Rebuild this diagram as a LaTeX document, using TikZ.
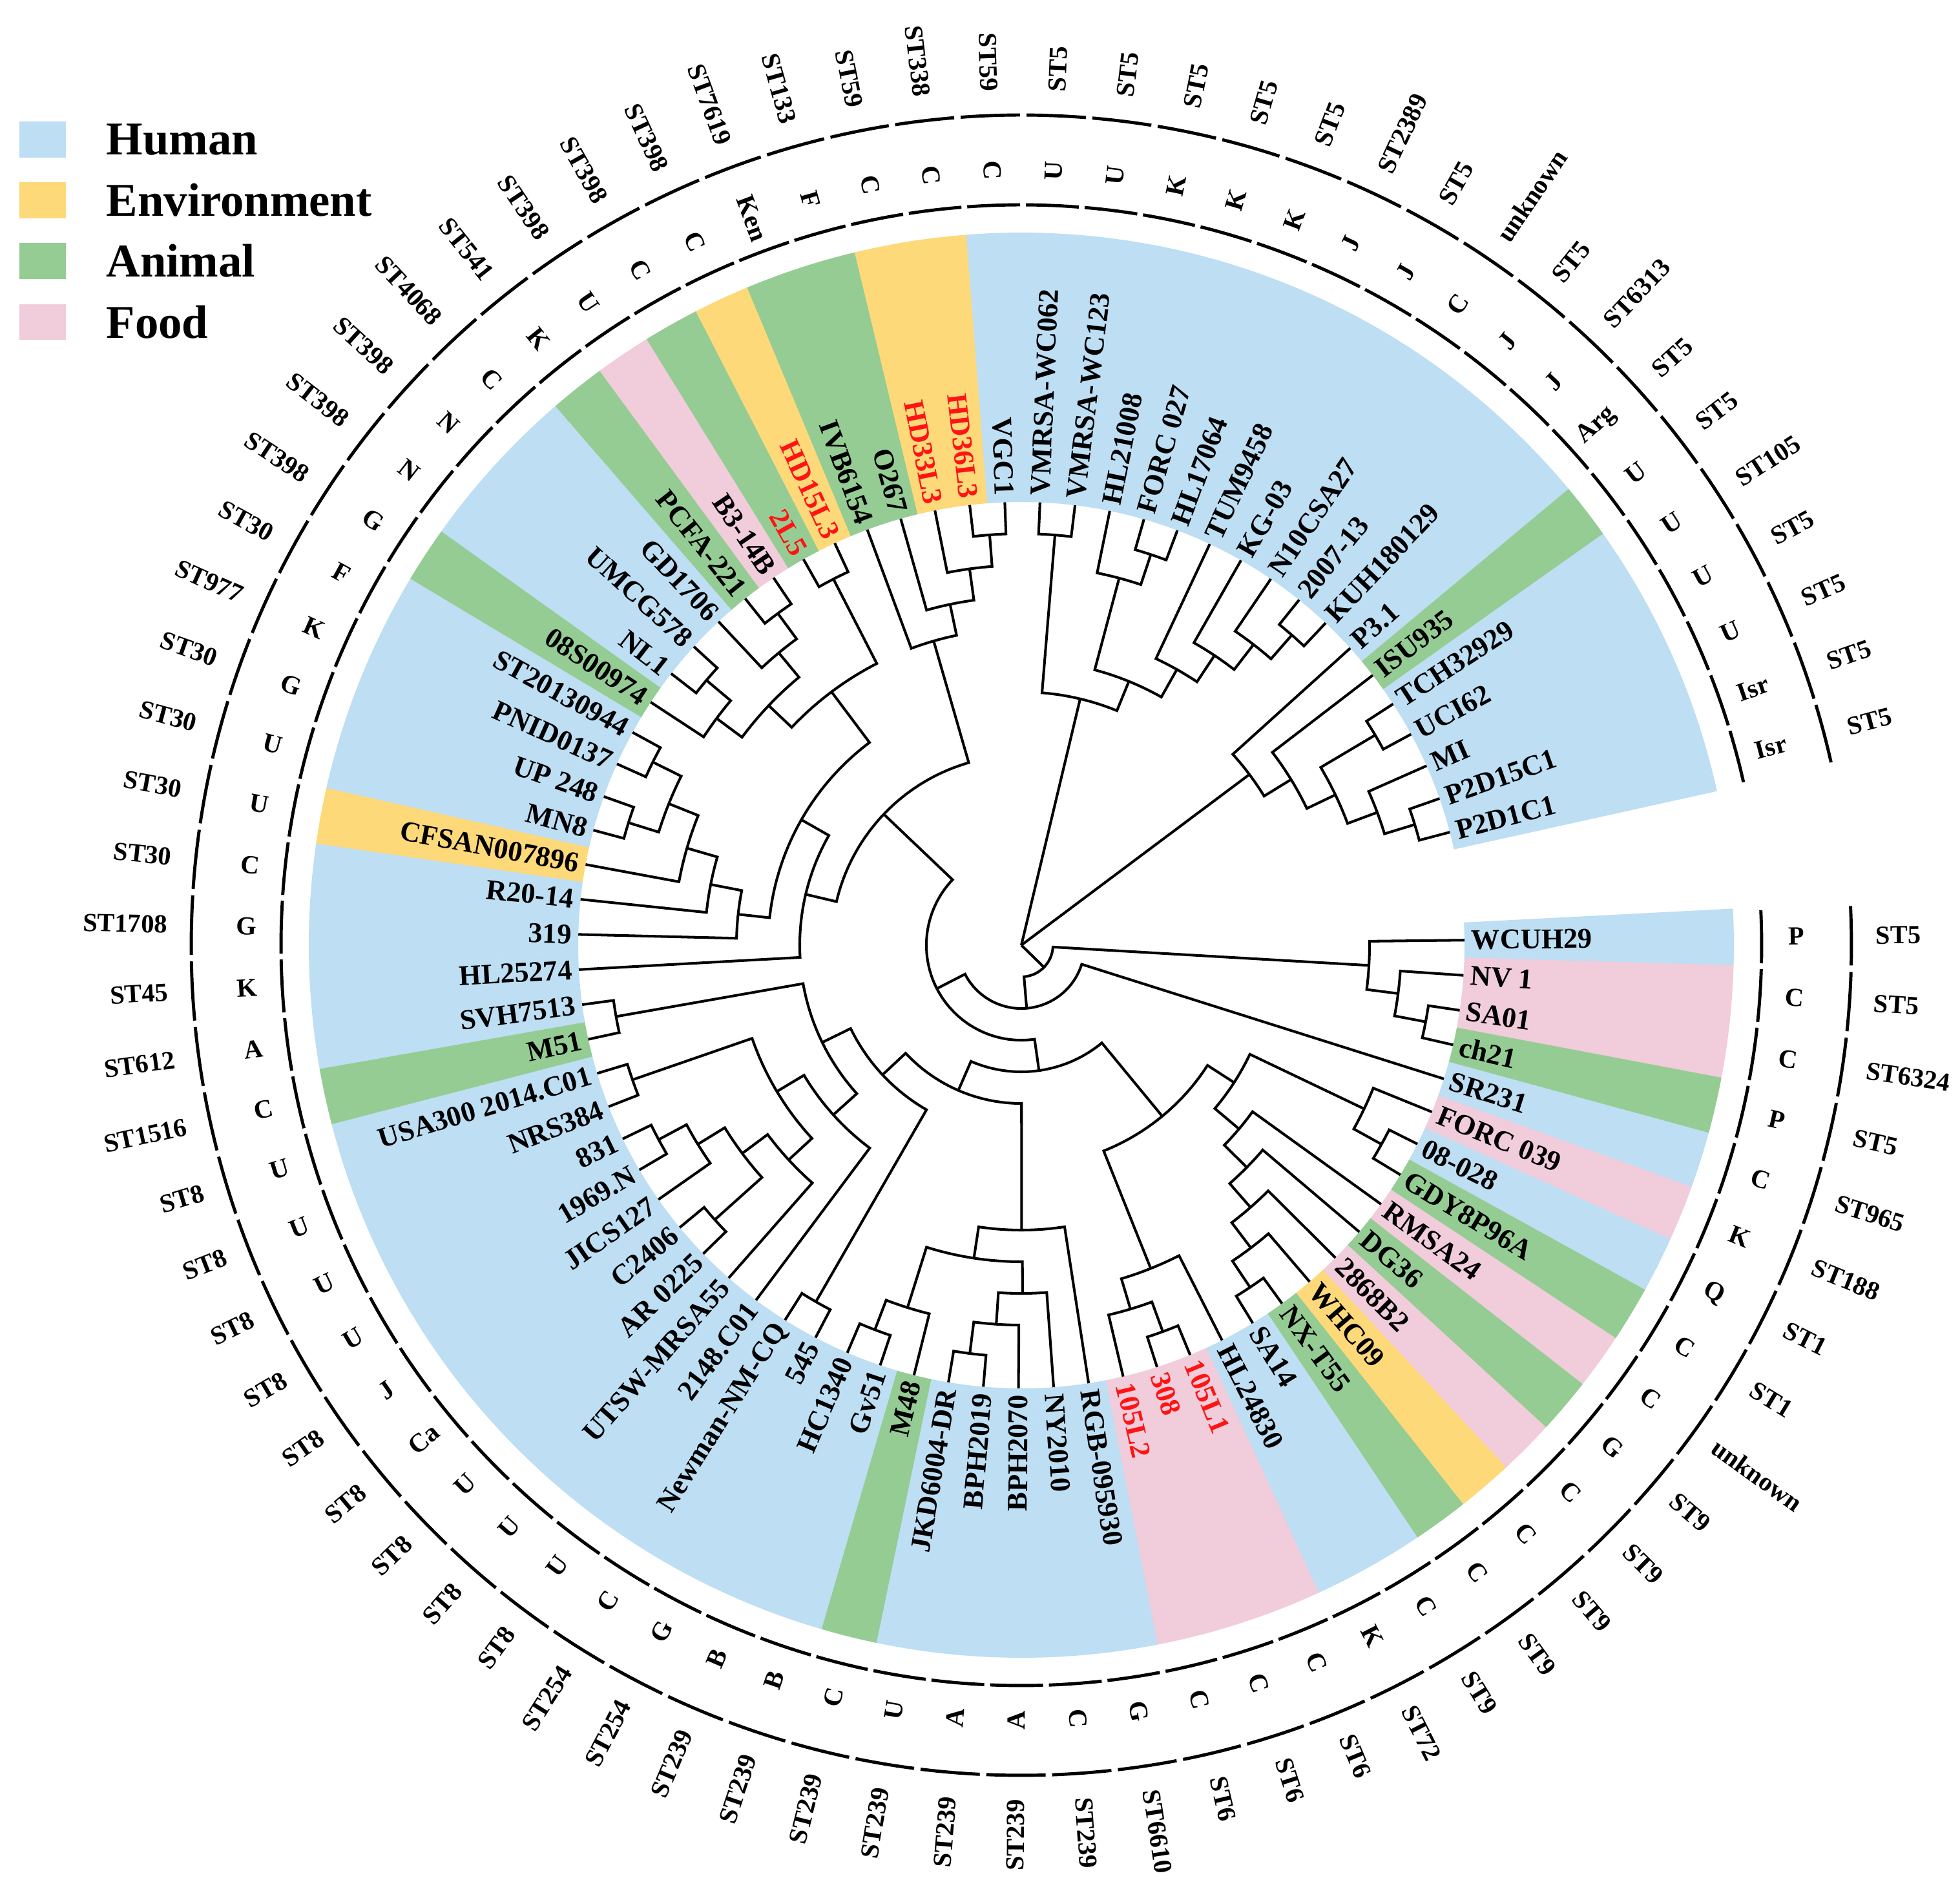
\documentclass[tikz,border=0pt]{standalone}
\usepackage{fontspec}
\setmainfont{Liberation Serif}

\definecolor{hum}{RGB}{189,222,243}
\definecolor{env}{RGB}{254,217,122}
\definecolor{ani}{RGB}{149,204,148}
\definecolor{foo}{RGB}{241,204,219}
\definecolor{redlbl}{RGB}{255,20,20}

\tikzset{
  branch/.style={line width=1.15pt, line join=miter},
  ring/.style={line width=1.4pt},
  lbl/.style={font=\fontsize{12.6}{14}\selectfont\bfseries, inner sep=0pt},
  ctylbl/.style={font=\fontsize{11.5}{13}\selectfont\bfseries, inner sep=0pt},
  stlbl/.style={font=\fontsize{11.5}{13}\selectfont\bfseries, inner sep=0pt},
  legtext/.style={font=\fontsize{20.7}{24}\selectfont\bfseries, inner sep=0pt, anchor=west},
}

\newcommand{\rtip}{6.86}
\newcommand{\stp}{0.49}

% label / source / country / ST / text colour
\newcommand{\leafdata}{
  WCUH29/hum/P/ST5/black, NV 1/foo/C/ST5/black, SA01/foo/C/ST6324/black,
  ch21/ani/P/ST5/black, SR231/hum/C/ST965/black, FORC 039/foo/K/ST188/black,
  08-028/hum/Q/ST1/black, GDY8P96A/ani/C/ST1/black, RMSA24/foo/C/unknown/black,
  DG36/ani/G/ST9/black, 2868B2/foo/C/ST9/black, WHC09/env/C/ST9/black,
  NX-T55/ani/C/ST9/black, SA14/hum/C/ST9/black, HL24830/hum/K/ST72/black,
  105L1/foo/C/ST6/redlbl, 308/foo/C/ST6/redlbl, 105L2/foo/C/ST6/redlbl,
  RGB-095930/hum/G/ST6610/black, NY2010/hum/C/ST239/black, BPH2070/hum/A/ST239/black,
  BPH2019/hum/A/ST239/black, JKD6004-DR/hum/U/ST239/black, M48/ani/C/ST239/black,
  Gv51/hum/B/ST239/black, HC1340/hum/B/ST239/black, 545/hum/G/ST254/black,
  Newman-NM-CQ/hum/C/ST254/black, 2148.C01/hum/U/ST8/black, UTSW-MRSA55/hum/U/ST8/black,
  AR 0225/hum/U/ST8/black, C2406/hum/Ca/ST8/black, JICS127/hum/J/ST8/black,
  1969.N/hum/U/ST8/black, 831/hum/U/ST8/black, NRS384/hum/U/ST8/black,
  USA300 2014.C01/hum/U/ST8/black, M51/ani/C/ST1516/black, SVH7513/hum/A/ST612/black,
  HL25274/hum/K/ST45/black, 319/hum/G/ST1708/black, R20-14/hum/C/ST30/black,
  CFSAN007896/env/U/ST30/black, MN8/hum/U/ST30/black, UP 248/hum/G/ST30/black,
  PNID0137/hum/K/ST977/black, ST20130944/hum/F/ST30/black, 08S00974/ani/G/ST398/black,
  NL1/hum/N/ST398/black, UMCG578/hum/N/ST398/black, GD1706/hum/C/ST4068/black,
  PCFA-221/ani/K/ST541/black, B3-14B/foo/U/ST398/black, 2L5/ani/C/ST398/redlbl,
  HD15L3/env/C/ST398/redlbl, IVB6154/ani/Ken/ST7619/black, O267/ani/F/ST133/black,
  HD33L3/env/C/ST59/redlbl, HD36L3/env/C/ST338/redlbl, VGC1/hum/C/ST59/black,
  VMRSA-WC062/hum/U/ST5/black, VMRSA-WC123/hum/U/ST5/black, HL21008/hum/K/ST5/black,
  FORC 027/hum/K/ST5/black, HL17064/hum/K/ST5/black, TUM9458/hum/J/ST2389/black,
  KG-03/hum/J/ST5/black, N10CSA27/hum/C/unknown/black, 2007-13/hum/J/ST5/black,
  KUH180129/hum/J/ST6313/black, P3.1/hum/Arg/ST5/black, ISU935/ani/U/ST5/black,
  TCH32929/hum/U/ST105/black, UCI62/hum/U/ST5/black, MI/hum/U/ST5/black,
  P2D15C1/hum/Isr/ST5/black, P2D1C1/hum/Isr/ST5/black}

% clade: name, first child, second child
\newcommand{\clade}[3]{%
  \pgfmathsetmacro{\brA}{\csname ang@#2\endcsname}%
  \pgfmathsetmacro{\brB}{\csname ang@#3\endcsname}%
  \pgfmathtruncatemacro{\brH}{max(\csname hgt@#2\endcsname,\csname hgt@#3\endcsname)+1}%
  \pgfmathsetmacro{\brM}{(\brA+\brB)/2}%
  \pgfmathsetmacro{\brR}{(14-\brH)*\stp}%
  \expandafter\xdef\csname ang@#1\endcsname{\brM}%
  \expandafter\xdef\csname hgt@#1\endcsname{\brH}%
  \coordinate (#1) at (\brM:\brR);%
  \draw[branch] (#2) -- (\brA:\brR) arc[start angle=\brA, end angle=\brB, radius=\brR] -- (#3);%
}

\begin{document}
\begin{tikzpicture}
\useasboundingbox (-15.81,-14.63) rectangle (14.53,14.63);

% source bands and tips
\foreach \lbl/\cat/\cty/\seq/\tc [count=\i from 0] in \leafdata {
  \pgfmathsetmacro{\lA}{0.65-4.551*\i}
  \pgfmathsetmacro{\lAa}{\lA-2.29}
  \pgfmathsetmacro{\lAb}{\lA+2.29}
  \expandafter\xdef\csname ang@L\i\endcsname{\lA}
  \expandafter\xdef\csname hgt@L\i\endcsname{0}
  \coordinate (L\i) at (\lA:\rtip);
  \fill[fill=\cat] (\lAa:\rtip) arc[start angle=\lAa, end angle=\lAb, radius=\rtip]
    -- (\lAb:11.03) arc[start angle=\lAb, end angle=\lAa, radius=11.03] -- cycle;
}

% tree
\clade{E1}{L2}{L3}
\clade{E2}{L1}{E1}
\clade{E}{L0}{E2}
\clade{K2}{L6}{L7}
\clade{K1}{L5}{K2}
\clade{K7}{L12}{L13}
\clade{K6}{L11}{K7}
\clade{K5}{L10}{K6}
\clade{K4}{L9}{K5}
\clade{K3}{L8}{K4}
\clade{K}{K1}{K3}
\clade{J4}{L15}{L16}
\clade{J3}{J4}{L17}
\clade{J2}{L14}{J3}
\clade{J}{K}{J2}
\clade{I10}{L21}{L22}
\clade{I9}{L20}{I10}
\clade{I8}{L19}{I9}
\clade{I7}{L24}{L25}
\clade{I6}{L23}{I7}
\clade{I5}{I8}{I6}
\clade{I3}{L18}{I5}
\clade{I13}{L26}{L27}
\clade{C9}{L35}{L36}
\clade{C10}{L33}{L34}
\clade{C11}{L32}{C10}
\clade{C12}{L30}{L31}
\clade{C13}{C11}{C12}
\clade{C14}{C13}{L29}
\clade{I15}{C9}{C14}
\clade{C16}{I15}{L28}
\clade{C37}{L37}{L38}
\clade{I11}{C37}{C16}
\clade{I4}{I11}{I13}
\clade{I2}{I4}{I3}
\clade{I}{J}{I2}
\clade{C17}{L45}{L46}
\clade{C18}{L43}{L44}
\clade{C19}{C17}{C18}
\clade{C20}{L42}{C19}
\clade{C21}{L41}{C20}
\clade{C8}{L40}{C21}
\clade{C1}{L51}{L52}
\clade{C2}{L50}{C1}
\clade{C4}{L48}{L49}
\clade{C5}{L47}{C4}
\clade{C3}{C5}{C2}
\clade{M5}{L53}{L54}
\clade{C6}{C3}{M5}
\clade{C7}{C8}{C6}
\clade{H1}{L39}{C7}
\clade{M1}{L58}{L59}
\clade{M2}{L57}{M1}
\clade{M3}{L56}{M2}
\clade{M4}{L55}{M3}
\clade{H}{H1}{M4}
\clade{G}{I}{H}
\clade{F}{L4}{G}
\clade{D}{E}{F}
\clade{A1}{L60}{L61}
\clade{A5}{L63}{L64}
\clade{A4}{L62}{A5}
\clade{A8}{L68}{L69}
\clade{A7}{L67}{A8}
\clade{A6}{L66}{A7}
\clade{A3}{L65}{A6}
\clade{A2}{A4}{A3}
\clade{A}{A1}{A2}
\clade{B5}{L75}{L76}
\clade{B4}{L74}{B5}
\clade{P1}{L72}{L73}
\clade{B3}{P1}{B4}
\clade{B2}{L71}{B3}
\clade{B}{L70}{B2}

% root
\coordinate (root) at (0,0);
\draw[branch] (root) -- (A);
\draw[branch] (root) -- (B);
\draw[branch] (root) -- (D);

% strain names, country ring, ST ring
\foreach \lbl/\cat/\cty/\seq/\tc [count=\i from 0] in \leafdata {
  \pgfmathsetmacro{\lA}{0.65-4.551*\i}
  \pgfmathsetmacro{\lAa}{\lA-2.05}
  \pgfmathsetmacro{\lAb}{\lA+2.05}
  \pgfmathsetmacro{\lT}{mod(\lA+720,360)}
  \pgfmathtruncatemacro{\lF}{and(\lT>90,\lT<270)}
  \draw[ring] (\lAa:11.46) arc[start angle=\lAa, end angle=\lAb, radius=11.46];
  \draw[ring] (\lAa:12.85) arc[start angle=\lAa, end angle=\lAb, radius=12.85];
  \ifnum\lF=1
    \node[lbl, text=\tc, anchor=east, rotate=\lT-180] (T\i) at (\lA:6.96) {\lbl};
    \node[ctylbl, rotate=\lT-180] (Y\i) at (\lA:12.0) {\cty};
    \node[stlbl, anchor=east, rotate=\lT-180] (S\i) at (\lA:13.22) {\seq};
  \else
    \node[lbl, text=\tc, anchor=west, rotate=\lT] (T\i) at (\lA:6.96) {\lbl};
    \node[ctylbl, rotate=\lT] (Y\i) at (\lA:12.0) {\cty};
    \node[stlbl, anchor=west, rotate=\lT] (S\i) at (\lA:13.22) {\seq};
  \fi
}

% legend
\fill[hum] (-15.51,12.19) rectangle (-14.79,12.75);
\node[legtext] (leghum) at (-14.17,12.47) {Human};
\fill[env] (-15.51,11.25) rectangle (-14.79,11.81);
\node[legtext] (legenv) at (-14.17,11.53) {Environment};
\fill[ani] (-15.51,10.31) rectangle (-14.79,10.87);
\node[legtext] (legani) at (-14.17,10.59) {Animal};
\fill[foo] (-15.51,9.37) rectangle (-14.79,9.92);
\node[legtext] (legfoo) at (-14.17,9.645) {Food};
\end{tikzpicture}
\end{document}
